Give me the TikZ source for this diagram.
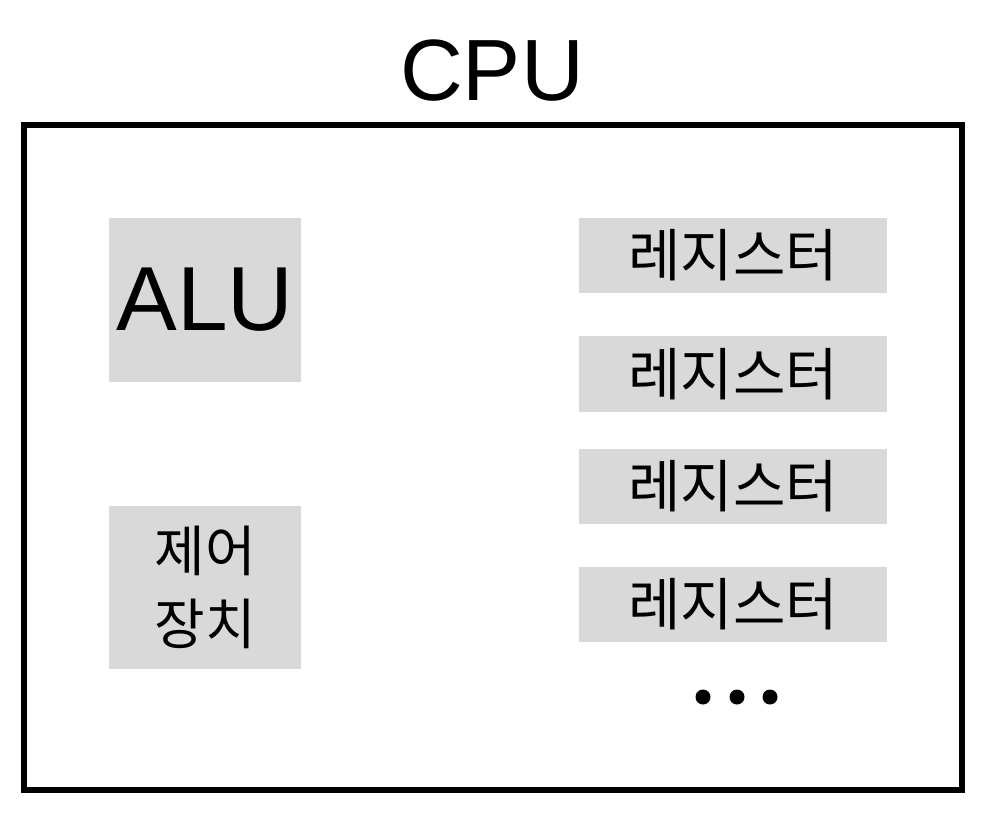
\documentclass[tikz,border=0pt]{standalone}
\usepackage{fontspec}
\setmainfont{Noto Sans CJK KR}
\newfontfamily\latinfont{Liberation Sans}
\begin{document}
\begin{tikzpicture}[x=1pt,y=-1pt,
  unit/.style={fill=boxgray,inner sep=0pt,align=center},
  reg/.style={unit,minimum width=308pt,minimum height=75pt,font=\fontsize{57}{60}\selectfont},
  big/.style={unit,minimum width=192pt,minimum height=164pt},
  dot/.style={circle,fill=black,inner sep=0pt,minimum size=15pt}]
\definecolor{boxgray}{HTML}{D9D9D9}
\useasboundingbox (0,0) rectangle (986,828);
\node[anchor=base,inner sep=0pt,font=\latinfont\fontsize{87}{87}\selectfont] (title) at (492,100) {CPU};
\draw[line width=6pt] (24,125) rectangle (962,790);
\node[big,anchor=center,font=\latinfont\fontsize{91}{91}\selectfont] (alu) at (205,300) {ALU};
\node[big,minimum height=163pt,font=\fontsize{55}{73}\selectfont] (cu) at (205,587.5) {제어\\장치};
\node[reg] (r1) at (733,255.5) {레지스터};
\node[reg,minimum height=76pt] (r2) at (733,374) {레지스터};
\node[reg] (r3) at (733,486) {레지스터};
\node[reg] (r4) at (733,604.5) {레지스터};
\node[dot] (d1) at (703,697) {};
\node[dot] (d2) at (737,697) {};
\node[dot] (d3) at (770,697) {};
\end{tikzpicture}
\end{document}
